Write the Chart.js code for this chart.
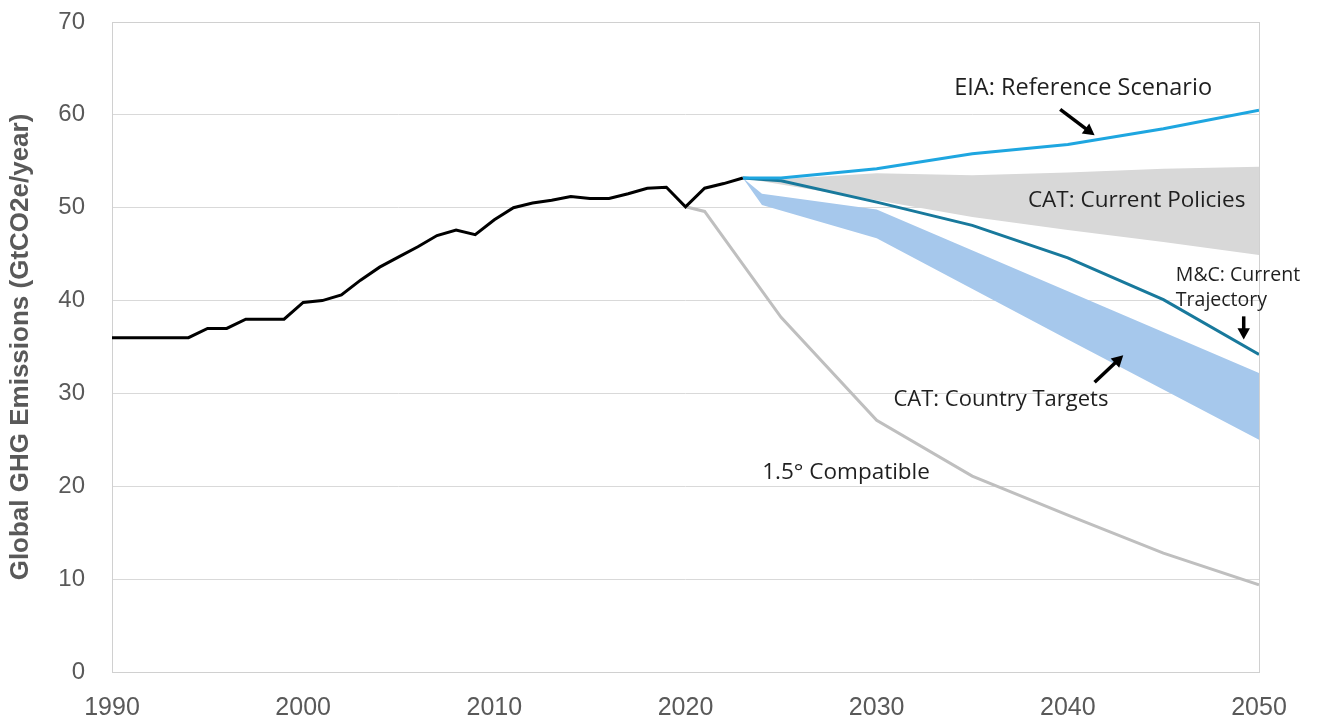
<!DOCTYPE html>
<html>
<head>
<meta charset="utf-8">
<script src="https://cdn.jsdelivr.net/npm/chart.js@4/dist/chart.umd.min.js"></script>
<style>
  html, body { margin: 0; padding: 0; background: #fff; }
  #wrap { width: 1317px; height: 719px; position: relative; }
</style>
</head>
<body>
<div id="wrap"><canvas id="ghgChart"></canvas></div>
<script>
// historical emissions
const histYears = [1990, 1991, 1992, 1993, 1994, 1995, 1996, 1997, 1998, 1999, 2000, 2001, 2002, 2003, 2004, 2005, 2006, 2007, 2008, 2009, 2010, 2011, 2012, 2013, 2014, 2015, 2016, 2017, 2018, 2019, 2020, 2021, 2022, 2023];
const histValues = [36, 36, 36, 36, 36, 37, 37, 38, 38, 38, 39.8, 40, 40.6, 42.2, 43.6, 44.7, 45.8, 47.0, 47.6, 47.1, 48.7, 50, 50.5, 50.8, 51.2, 51, 51, 51.5, 52.1, 52.2, 50.1, 52.1, 52.6, 53.2];

// projections
const projYears = [2023, 2025, 2030, 2035, 2040, 2045, 2050];
const eiaValues = [53.2, 53.2, 54.2, 55.8, 56.8, 58.5, 60.5];
const mcValues = [53.2, 52.9, 50.6, 48.1, 44.6, 40.1, 34.2];
const cpUpper = [53.2, 53.1, 53.7, 53.5, 53.8, 54.2, 54.4];
const cpLower = [53.2, 52.5, 50.8, 49.0, 47.6, 46.3, 44.9];

const ctYears = [2023, 2024, 2030, 2040, 2050];
const ctUpper = [53.2, 51.5, 49.8, 41.0, 32.2];
const ctLower = [53.2, 50.3, 46.7, 35.8, 25.0];

const p15Years = [2020, 2021, 2025, 2030, 2035, 2040, 2045, 2050];
const p15Values = [50.1, 49.6, 38.2, 27.1, 21.1, 16.9, 12.8, 9.4];

const yTicks = [0, 10, 20, 30, 40, 50, 60, 70];
const xTicks = [1990, 2000, 2010, 2020, 2030, 2040, 2050];

// annotation texts, placed in data units
const labels = [
  { text: 'EIA: Reference Scenario', x: 2040.8, y: 62.9, size: 23.5, align: 'center' },
  { text: 'CAT: Current Policies', x: 2043.6, y: 50.8, size: 22.5, align: 'center' },
  { text: 'M&C: Current', x: 2045.65, y: 42.75, size: 19.5, align: 'left' },
  { text: 'Trajectory', x: 2045.65, y: 40.06, size: 19.5, align: 'left' },
  { text: 'CAT: Country Targets', x: 2036.5, y: 29.3, size: 22, align: 'center' },
  { text: '1.5° Compatible', x: 2028.4, y: 21.5, size: 22.5, align: 'center' }
];
const arrows = [
  { from: [2039.6, 60.6], to: [2041.4, 57.8] },
  { from: [2049.2, 38.3], to: [2049.2, 35.8] },
  { from: [2041.4, 31.2], to: [2042.9, 34.1] }
];

function pts(xs, ys) { return xs.map((x, i) => ({ x: x, y: ys[i] })); }

const annotate = {
  id: 'annotate',
  afterDatasetsDraw(chart) {
    const { ctx, scales: { x, y } } = chart;
    ctx.save();
    ctx.fillStyle = '#1f1f1f';
    ctx.textBaseline = 'middle';
    labels.forEach(l => {
      ctx.font = l.size + 'px "Open Sans", sans-serif';
      ctx.textAlign = l.align;
      ctx.fillText(l.text, x.getPixelForValue(l.x), y.getPixelForValue(l.y));
    });
    ctx.strokeStyle = '#000';
    ctx.fillStyle = '#000';
    ctx.lineWidth = 3.5;
    arrows.forEach(a => {
      const x1 = x.getPixelForValue(a.from[0]), y1 = y.getPixelForValue(a.from[1]);
      const x2 = x.getPixelForValue(a.to[0]), y2 = y.getPixelForValue(a.to[1]);
      const ang = Math.atan2(y2 - y1, x2 - x1);
      const head = 13;
      ctx.beginPath();
      ctx.moveTo(x1, y1);
      ctx.lineTo(x2 - Math.cos(ang) * head * 0.7, y2 - Math.sin(ang) * head * 0.7);
      ctx.stroke();
      ctx.beginPath();
      ctx.moveTo(x2, y2);
      ctx.lineTo(x2 - head * Math.cos(ang - 0.5), y2 - head * Math.sin(ang - 0.5));
      ctx.lineTo(x2 - head * Math.cos(ang + 0.5), y2 - head * Math.sin(ang + 0.5));
      ctx.closePath();
      ctx.fill();
    });
    ctx.restore();
  }
};

const plotBorder = {
  id: 'plotBorder',
  beforeDatasetsDraw(chart) {
    const { ctx, chartArea: a } = chart;
    ctx.save();
    ctx.strokeStyle = '#d0d0d0';
    ctx.lineWidth = 1;
    ctx.strokeRect(a.left + 0.5, a.top + 0.5, a.right - a.left, a.bottom - a.top);
    ctx.restore();
  }
};

const line = (data, color, order) => ({
  data: data, borderColor: color, borderWidth: 3, pointRadius: 0, fill: false, tension: 0, order: order
});

new Chart(document.getElementById('ghgChart'), {
  type: 'line',
  data: {
    datasets: [
      line(pts(histYears, histValues), '#000000', 1),
      line(pts(projYears, eiaValues), '#1ea6e0', 2),
      line(pts(projYears, mcValues), '#18799c', 2),
      line(pts(p15Years, p15Values), '#bfbfbf', 3),
      { data: pts(projYears, cpUpper), borderWidth: 0, pointRadius: 0, fill: '+1', backgroundColor: '#d8d8d8', order: 10 },
      { data: pts(projYears, cpLower), borderWidth: 0, pointRadius: 0, fill: false, order: 10 },
      { data: pts(ctYears, ctUpper), borderWidth: 0, pointRadius: 0, fill: '+1', backgroundColor: '#a6c8ec', order: 9 },
      { data: pts(ctYears, ctLower), borderWidth: 0, pointRadius: 0, fill: false, order: 9 }
    ]
  },
  options: {
    responsive: true,
    maintainAspectRatio: false,
    animation: false,
    layout: { padding: { left: 0, right: 58, top: 22, bottom: 0 } },
    plugins: { legend: { display: false }, tooltip: { enabled: false } },
    scales: {
      x: {
        type: 'linear', min: 1990, max: 2050,
        afterBuildTicks: s => { s.ticks = xTicks.map(v => ({ value: v })); },
        afterFit: s => { s.height = 47; s.paddingLeft = 0; s.paddingRight = 0; },
        grid: { display: false, drawTicks: false },
        border: { display: false },
        ticks: { color: '#595959', font: { family: '"Liberation Sans", Arial, sans-serif', size: 25 }, padding: 21, maxRotation: 0, callback: v => String(v) }
      },
      y: {
        min: 0, max: 70,
        afterBuildTicks: s => { s.ticks = yTicks.map(v => ({ value: v })); },
        afterFit: s => { s.width = 112; s.paddingTop = 0; s.paddingBottom = 0; },
        grid: { color: '#d9d9d9', lineWidth: 1, drawTicks: false },
        border: { display: false },
        ticks: { color: '#595959', font: { family: '"Liberation Sans", Arial, sans-serif', size: 24 }, padding: 27 },
        title: {
          display: true,
          text: 'Global GHG Emissions (GtCO2e/year)',
          color: '#595959',
          font: { family: '"Liberation Sans", Arial, sans-serif', size: 26, weight: 'bold' },
          padding: { top: 5, bottom: 0 }
        }
      }
    }
  },
  plugins: [plotBorder, annotate]
});
</script>
</body>
</html>
